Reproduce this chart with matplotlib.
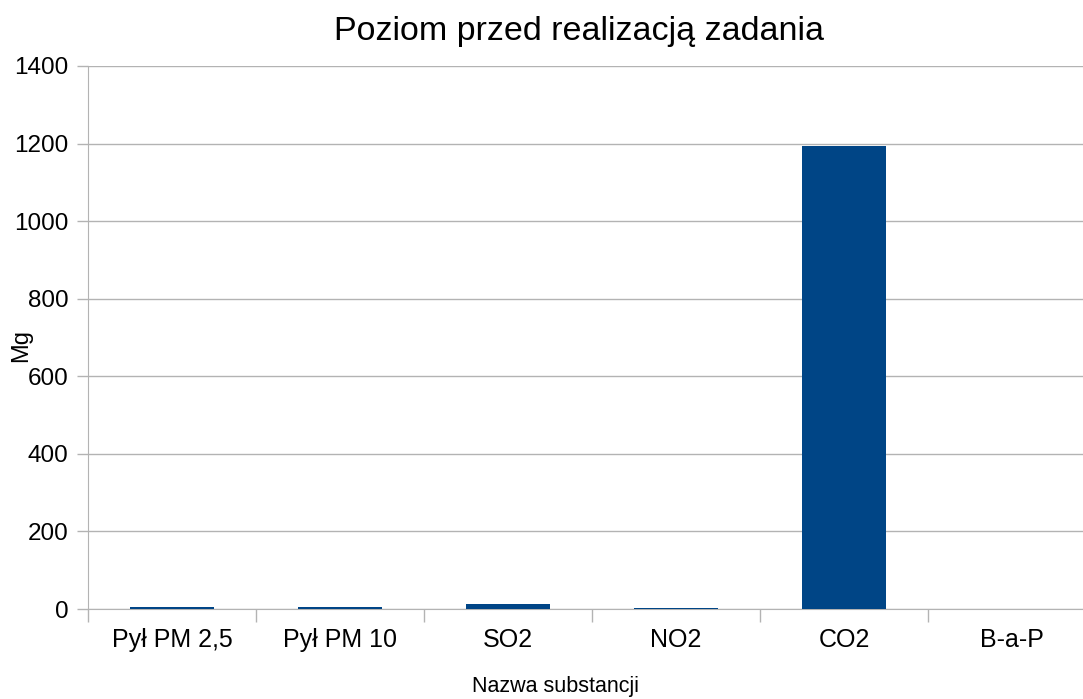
import matplotlib.pyplot as plt
import numpy as np

plt.rcParams['font.family'] = ['Liberation Sans', 'DejaVu Sans']

# data
categories = ['Pył PM 2,5', 'Pył PM 10', 'SO2', 'NO2', 'CO2', 'B-a-P']
values = [6.0, 6.0, 13.0, 2.6, 1195.0, 1.2]

W, H = 1083, 699
fig = plt.figure(figsize=(W / 100, H / 100), dpi=100)
# plot area runs a little past the right edge, as in the original
ax = fig.add_axes([88 / W, 1 - 609 / H, (1096 - 88) / W, (609 - 66) / H])

x = np.arange(len(categories))
ax.bar(x, values, width=0.505, color='#004586', zorder=3)

ax.set_xlim(-0.5, len(categories) - 0.5)
ax.set_ylim(0, 1400)
ax.set_yticks(np.arange(0, 1401, 200))
ax.yaxis.grid(True, color='#b3b3b3', linewidth=1, zorder=0)

ax.set_xticks(x)
ax.set_xticklabels(categories)
ax.set_xticks(np.arange(-0.5, len(categories)), minor=True)
ax.tick_params(axis='x', which='major', length=0, labelsize=18, pad=14)
ax.tick_params(axis='x', which='minor', length=9, color='#b3b3b3', width=1)
ax.tick_params(axis='y', length=8, color='#b3b3b3', width=1, labelsize=17.5, pad=6)

for s in ['top', 'right']:
    ax.spines[s].set_visible(False)
ax.spines['left'].set_color('#b3b3b3')
ax.spines['bottom'].set_color('#b3b3b3')

fig.text(579.5 / W, 1 - 40 / H, 'Poziom przed realizacją zadania',
         fontsize=24.5, ha='center', va='baseline')
xl = fig.text(555.5 / W, 1 - 692 / H, 'Nazwa substancji',
              fontsize=15.5, ha='center', va='baseline')
fig.text(21 / W, 1 - 345 / H, 'Mg', fontsize=17, rotation=90,
         ha='center', va='center')

fig.savefig('out.png', dpi=100)
